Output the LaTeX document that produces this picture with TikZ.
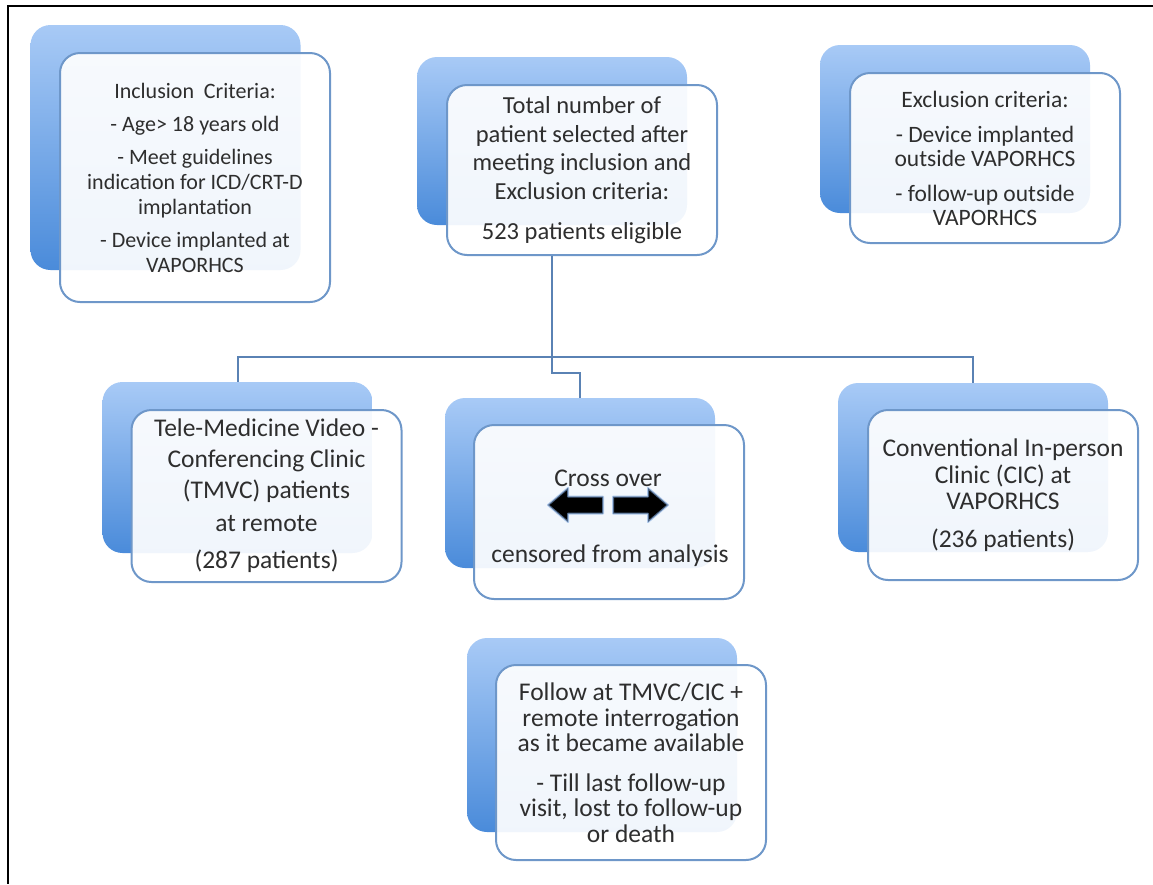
\documentclass[tikz,border=0pt]{standalone}
\usepackage{fontspec}
\setmainfont{Carlito}
\definecolor{backtop}{HTML}{A8CAF6}
\definecolor{backbot}{HTML}{4A8BDA}
\definecolor{frontline}{HTML}{6E97C9}
\definecolor{connline}{HTML}{5A82B4}
\definecolor{txtcol}{HTML}{2E2E2E}
\definecolor{glow}{HTML}{7FA8DE}
\begin{document}
\begin{tikzpicture}[x=1pt,y=-1pt,
  backbox/.style={rectangle, rounded corners=20pt, top color=backtop, bottom color=backbot,
    draw=none, minimum width=270pt, inner sep=0pt},
  frontbox/.style={rectangle, rounded corners=20pt, draw=frontline, line width=2pt,
    fill=white, fill opacity=0.92, text opacity=1, text=txtcol, minimum width=270pt,
    align=center, inner sep=0pt},
  conn/.style={draw=connline, line width=2pt},
  frameline/.style={draw=black, line width=2.5pt},
  blockarrow/.style={fill=black, draw=glow, line width=2pt, draw opacity=0.6, line join=round},
  plaintext/.style={text=txtcol, inner sep=0pt, font=\fontsize{25.5}{26}\selectfont}
]
\useasboundingbox (0,0) rectangle (1153,884);
\draw[frameline] (1153,6) -- (8,6) -- (8,884);

% Inclusion
\node[backbox, minimum height=245pt] (incB) at (165.5,147.5) {};
\node[frontbox, minimum height=249pt, font=\fontsize{22}{25}\selectfont] (incF) at (195,177.5)
  {Inclusion\ \ Criteria:\\[8pt]
   - Age> 18 years old\\[8pt]
   - Meet guidelines\\ indication for ICD/CRT-D\\ implantation\\[8pt]
   - Device implanted at\\ VAPORHCS};

% Total
\node[backbox, minimum height=168pt] (totB) at (552,141) {};
\node[frontbox, minimum height=170pt, font=\fontsize{24.5}{28.5}\selectfont] (totF) at (582,170)
  {Total number of\\ patient selected after\\ meeting inclusion and\\ Exclusion criteria:\\[11.5pt]
   523 patients eligible};

% Exclusion
\node[backbox, minimum height=168pt] (excB) at (955,129) {};
\node[frontbox, minimum height=170pt, font=\fontsize{23.5}{24}\selectfont] (excF) at (985,158)
  {Exclusion criteria:\\[11pt]
   - Device implanted\\ outside VAPORHCS\\[11pt]
   - follow-up outside\\ VAPORHCS};

% TMVC
\node[backbox, minimum height=171pt] (tmB) at (237.5,467.5) {};
\node[frontbox, minimum height=172pt, font=\fontsize{25.5}{31}\selectfont] (tmF) at (266.5,496)
  {Tele-Medicine Video -\\ Conferencing Clinic\\ (TMVC) patients\\[2pt]
   at remote\\[6pt] (287 patients)};

% Cross over
\node[backbox, minimum height=170pt] (crB) at (580,483) {};
\node[frontbox, minimum height=174pt] (crF) at (609,512) {};
\node[plaintext, anchor=base] (crT1) at (608,486) {Cross over};
\node[plaintext, anchor=base] (crT2) at (610,562) {censored from analysis};
\path[blockarrow] (548,505) -- (568,488) -- (568,496.5) -- (603,496.5) -- (603,513.5)
  -- (568,513.5) -- (568,522) -- cycle;
\path[blockarrow] (668,505) -- (648,488) -- (648,496.5) -- (613,496.5) -- (613,513.5)
  -- (648,513.5) -- (648,522) -- cycle;

% CIC
\node[backbox, minimum height=169pt] (cicB) at (973,467.5) {};
\node[frontbox, minimum height=170pt, font=\fontsize{25.5}{26.5}\selectfont] (cicF) at (1003,495)
  {Conventional In-person\\ Clinic (CIC) at\\ VAPORHCS\\[11pt] (236 patients)};

% Follow
\node[backbox, minimum height=194pt] (folB) at (602,735) {};
\node[frontbox, minimum height=195pt, font=\fontsize{25.5}{25.5}\selectfont] (folF) at (631,762.5)
  {Follow at TMVC/CIC +\\ remote interrogation\\ as it became available\\[14pt]
   - Till last follow-up\\ visit, lost to follow-up\\ or death};

% connectors
\coordinate (hy) at (0,357);
\coordinate (jog) at (0,373);
\draw[conn] (totB |- totF.south) -- (totB |- jog) -| (crB.north);
\draw[conn] (tmB.north) -- (tmB.north |- hy) -- (cicB.north |- hy) -- (cicB.north);
\end{tikzpicture}
\end{document}
